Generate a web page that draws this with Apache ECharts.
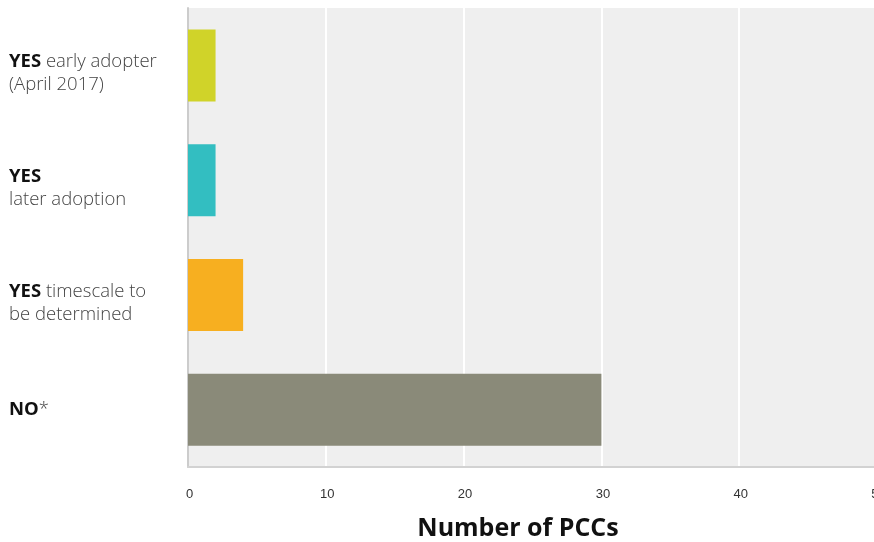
<!DOCTYPE html>
<html>
<head>
<meta charset="utf-8">
<script src="https://cdn.jsdelivr.net/npm/echarts@6/dist/echarts.min.js"></script>
<style>
  html, body { margin: 0; padding: 0; background: #ffffff; }
  #chart { width: 874px; height: 542px; }
</style>
</head>
<body>
<div id="chart"></div>
<script>
// Adoption status of PCCs, listed top to bottom
const categories = [
  'YES early adopter\n(April 2017)',
  'YES\nlater adoption',
  'YES timescale to\nbe determined',
  'NO*'
];
const counts = [2, 2, 4, 30];
const barColors = ['#d0d329', '#33bec1', '#f7af20', '#8a8a79'];
const xTicks = [0, 10, 20, 30, 40, 50];
const axisTitle = 'Number of PCCs';

// Split a category label into its bold lead word and the rest, per line
function richLabel(text) {
  return text.split('\n').map(function (line) {
    const m = line.match(/^(YES|NO)(.*)$/);
    if (m) {
      return '{b|' + m[1] + '}' + (m[2] ? '{r|' + m[2] + '}' : '');
    }
    return '{r|' + line + '}';
  }).join('\n');
}

// Two-line labels sit a little lower than the band centre
const yData = categories.map(function (c) {
  const item = { value: c };
  if (c.indexOf('\n') >= 0) {
    item.textStyle = { align: 'left', padding: [16, 0, 0, 0] };
  }
  return item;
});

const chart = echarts.init(document.getElementById('chart'));
chart.setOption({
  animation: false,
  title: {
    text: axisTitle,
    left: 518,
    top: 516,
    textAlign: 'center',
    padding: 0,
    textStyle: {
      fontFamily: 'Open Sans',
      fontWeight: 'bold',
      fontSize: 25,
      color: '#111111'
    }
  },
  grid: {
    left: 188,
    right: -3,
    top: 8,
    bottom: 75,
    containLabel: false,
    outerBoundsMode: 'none',
    show: true,
    backgroundColor: '#efefef',
    borderWidth: 0
  },
  xAxis: {
    type: 'value',
    min: xTicks[0],
    max: xTicks[xTicks.length - 1],
    interval: xTicks[1] - xTicks[0],
    axisLine: { show: true, onZero: false, lineStyle: { color: '#d2d2d2', width: 2 } },
    axisTick: { show: false },
    splitLine: { show: true, lineStyle: { color: '#ffffff', width: 2 } },
    axisLabel: {
      margin: 21,
      fontFamily: 'Liberation Sans',
      fontSize: 13,
      color: '#333333',
      showMinLabel: true,
      showMaxLabel: true,
      hideOverlap: false,
      padding: [0, 0, 0, 3]
    }
  },
  yAxis: {
    type: 'category',
    inverse: true,
    data: yData,
    axisLine: { show: true, lineStyle: { color: '#cccccc', width: 2 } },
    axisTick: { show: false },
    axisLabel: {
      align: 'left',
      margin: 179,
      formatter: richLabel,
      rich: {
        b: {
          fontFamily: 'Open Sans',
          fontWeight: 'bold',
          fontSize: 18.5,
          color: '#111111',
          lineHeight: 23
        },
        r: {
          fontFamily: 'Open Sans',
          fontWeight: 300,
          fontSize: 18.5,
          color: '#444444',
          lineHeight: 23
        }
      }
    }
  },
  series: [{
    type: 'bar',
    data: counts.map(function (v, i) {
      return { value: v, itemStyle: { color: barColors[i] } };
    }),
    barWidth: 72
  }]
});
</script>
</body>
</html>
